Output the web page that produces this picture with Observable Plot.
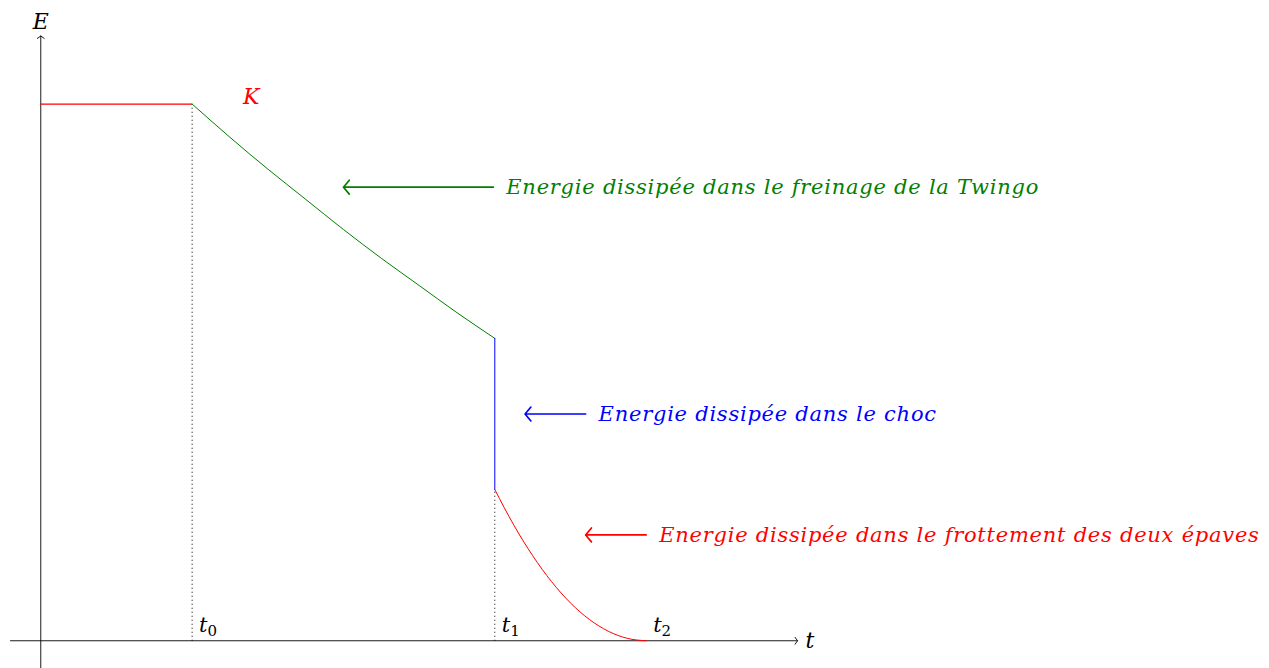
<!DOCTYPE html>
<html>
<head>
<meta charset="utf-8">
<script src="https://cdn.jsdelivr.net/npm/d3@7"></script>
<script src="https://cdn.jsdelivr.net/npm/@observablehq/plot@0.6"></script>
<style>
  html, body { margin: 0; padding: 0; background: #fff; }
  #chart svg { display: block; }
  .ann text { letter-spacing: 0.75px; }
</style>
</head>
<body>
<div id="chart"></div>
<script>
// ---- data ----
// constant kinetic energy before braking (t < t0)
const flatT = [0, 1];
const flatE = [3.55, 3.55];
// braking of the Twingo (t0 -> t1)
const brakeT = [1, 1.25, 1.5, 1.75, 2, 2.25, 2.5, 2.75, 3];
const brakeE = [3.55, 3.33, 3.12, 2.92, 2.72, 2.53, 2.35, 2.17, 2.0];
// shock (instant drop at t1)
const shockT = [3, 3];
const shockE = [2.0, 1.0];
// friction of the two wrecks (t1 -> t2)
const frictT = [3, 3.125, 3.25, 3.375, 3.5, 3.625, 3.75, 3.875, 4];
const frictE = [1.0, 0.766, 0.563, 0.391, 0.25, 0.141, 0.063, 0.016, 0];
// instants
const tickT = [1, 3, 4];
const tickLabels = ["t0", "t1", "t2"];
const dottedTop = [3.55, 1.0];
// annotations
const annLabels = [
  "Energie dissipée dans le freinage de la Twingo",
  "Energie dissipée dans le choc",
  "Energie dissipée dans le frottement des deux épaves"
];
const annColors = ["#008000", "#0000ff", "#ff0000"];
const annFromT = [2.99, 3.6, 4.0];
const annToT = [2.0, 3.2, 3.6];
const annE = [3.0, 1.5, 0.7];

const toRows = (xs, ys) => xs.map((x, i) => ({t: x, e: ys[i]}));
const ann = annLabels.map((label, i) => ({
  label, color: annColors[i], x1: annFromT[i], x2: annToT[i], e: annE[i]
}));
const ticks = tickT.map((t, i) => ({t, label: tickLabels[i]}));
const dotted = [{t: tickT[0], top: dottedTop[0]}, {t: tickT[1], top: dottedTop[1]}];

const font = "'DejaVu Serif', serif";

const chart = Plot.plot({
  width: 1269,
  height: 668,
  margin: 0,
  x: {domain: [-0.2, 5], range: [10, 797], axis: null},
  y: {domain: [-0.2, 4], range: [670.5, 35.5], axis: null},
  style: {fontFamily: font, background: "#fff"},
  marks: [
    // dotted guides
    Plot.link(dotted, {x1: "t", x2: "t", y1: 0, y2: "top", stroke: "#000", strokeWidth: 1, strokeDasharray: "1,3"}),
    // axes
    Plot.arrow([{x1: -0.2, y1: 0, x2: 5, y2: 0}], {x1: "x1", y1: "y1", x2: "x2", y2: "y2", stroke: "#000", strokeWidth: 0.9, headLength: 7, headAngle: 110}),
    Plot.arrow([{x1: 0, y1: -0.2, x2: 0, y2: 4.0}], {x1: "x1", y1: "y1", x2: "x2", y2: "y2", stroke: "#000", strokeWidth: 0.9, headLength: 7, headAngle: 110}),
    // energy curve
    Plot.line(toRows(flatT, flatE), {x: "t", y: "e", stroke: "#ff0000", strokeWidth: 1.2}),
    Plot.line(toRows(brakeT, brakeE), {x: "t", y: "e", stroke: "#008000", strokeWidth: 1, curve: "monotone-x"}),
    Plot.line(toRows(shockT, shockE), {x: "t", y: "e", stroke: "#0000ff", strokeWidth: 1}),
    Plot.line(toRows(frictT, frictE), {x: "t", y: "e", stroke: "#ff0000", strokeWidth: 1, curve: "monotone-x"}),
    // annotation arrows
    Plot.arrow(ann, {x1: "x1", x2: "x2", y1: "e", y2: "e", stroke: d => d.color, strokeWidth: 1.7, headLength: 8, headAngle: 100}),
    Plot.text(ann, {x: "x1", y: "e", text: "label", fill: d => d.color, textAnchor: "start", dx: 13, fontSize: 21, fontStyle: "italic", className: "ann"}),
    // labels
    Plot.text(ticks, {x: "t", y: 0, text: "label", textAnchor: "start", lineAnchor: "bottom", dx: 7, dy: -9, fontSize: 21, fontStyle: "italic", fill: "#000", className: "tlab"}),
    Plot.text(["K"], {x: 1.39, y: 3.6, text: d => d, fill: "#ff0000", fontSize: 22, fontStyle: "italic"}),
    Plot.text(["E"], {x: 0, y: 4.0, text: d => d, lineAnchor: "bottom", dy: -7, fontSize: 22, fontStyle: "italic", fill: "#000"}),
    Plot.text(["t"], {x: 5, y: 0, text: d => d, textAnchor: "start", dx: 8, fontSize: 22, fontStyle: "italic", fill: "#000"})
  ]
});
// render the index of t0, t1, t2 as an upright subscript
d3.select(chart).selectAll(".tlab text").each(function() {
  const s = this.textContent;
  const el = d3.select(this).text(s.slice(0, 1));
  el.append("tspan")
    .attr("dy", "0.3em")
    .attr("font-size", "15")
    .attr("font-style", "normal")
    .text(s.slice(1));
});
document.getElementById("chart").appendChild(chart);
</script>
</body>
</html>
